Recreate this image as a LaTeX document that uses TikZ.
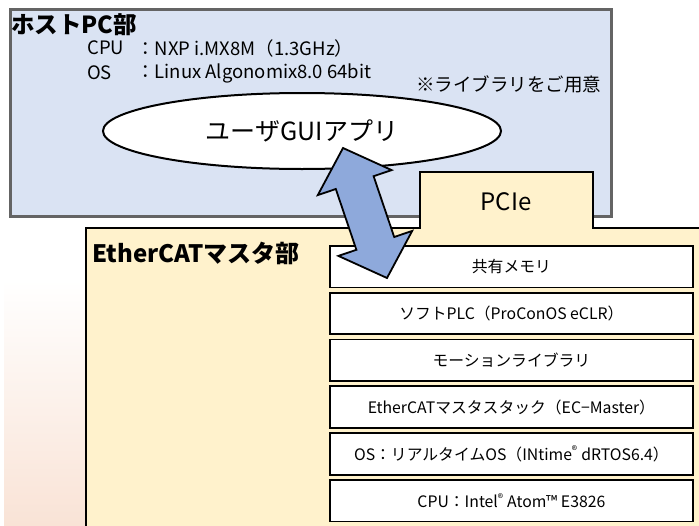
\documentclass[tikz,border=0pt]{standalone}
\usepackage{fontspec}
\setmainfont{Noto Sans CJK JP}
\usetikzlibrary{shapes.geometric}
\definecolor{hostfill}{HTML}{DAE3F3}
\definecolor{hostline}{HTML}{646464}
\definecolor{ecfill}{HTML}{FFF2CC}
\definecolor{arrowfill}{HTML}{8EA9DB}
\definecolor{pinkbot}{HTML}{F9E3D6}
\newcommand{\fs}[1]{\fontsize{#1}{#1}\selectfont}
\begin{document}
\begin{tikzpicture}[x=1pt,y=-1pt,
  txt/.style={inner sep=0pt, anchor=west},
  layerbox/.style={draw=black, line width=1.8pt, fill=white, minimum width=363pt,
    minimum height=41.5pt, anchor=north west, inner sep=0pt, font=\fs{15.8}},
  hostbox/.style={draw=hostline, line width=2.5pt, fill=hostfill, anchor=north west,
    minimum width=601pt, minimum height=207pt, inner sep=0pt},
  ecpart/.style={draw=black, line width=2pt, fill=ecfill},
  bigarrow/.style={draw=black, line width=1.8pt, fill=arrowfill, line join=miter}
]
\useasboundingbox (0,0) rectangle (699,525);
% host box
\node[hostbox] (host) at (9,8) {};
\node[txt, font=\fs{23.5}\bfseries] (hosttitle) at (11,25) {ホストPC部};
\node[txt, font=\fs{18.5}] (cpul) at (87,48) {CPU};
\node[txt, font=\fs{18.5}] (cpuv) at (136,48) {：NXP i.MX8M（1.3GHz）};
\node[txt, font=\fs{18.5}] (osl) at (87,73) {OS};
\node[txt, font=\fs{18.5}] (osv) at (136,73) {：Linux Algonomix8.0 64bit};
\node[txt, font=\fs{18.5}] (note) at (416,84) {※ライブラリをご用意};
\node[ellipse, draw=black, line width=2pt, fill=white, minimum width=398pt,
  minimum height=76pt, inner sep=0pt, font=\fs{25}] (gui) at (302,131) {ユーザGUIアプリ};
% left gradient
\shade[top color=white, bottom color=pinkbot] (4,280) rectangle (86,525);
% EtherCAT master part
\path[ecpart] (86,535) -- (86,228) -- (420,228) -- (420,172) -- (593,172)
  -- (593,228) -- (712,228) -- (712,535) -- cycle;
\node[font=\fs{24}] (pcie) at (506,202) {PCIe};
\node[txt, font=\fs{24}\bfseries] (ectitle) at (92,253) {EtherCATマスタ部};
\node[layerbox] (shm) at (329,245) {共有メモリ};
\node[layerbox] (plc) at (329,291.8) {ソフトPLC（ProConOS eCLR）};
\node[layerbox] (mot) at (329,338.6) {モーションライブラリ};
\node[layerbox] (stk) at (329,385.4) {EtherCATマスタスタック（EC−Master）};
\node[layerbox] (rtos) at (329,432.2) {OS：リアルタイムOS（INtime\textsuperscript{®} dRTOS6.4）};
\node[layerbox] (cpu) at (329,479) {CPU：Intel\textsuperscript{®} Atom™ E3826};
% double arrow
\coordinate (tipA) at (343,148);
\coordinate (tipB) at (387,278);
\draw[bigarrow] (tipA) -- (391.6,170.1) -- (373.6,176.2) -- (394.2,237.0)
  -- (412.2,230.9) -- (tipB) -- (338.4,255.9) -- (356.4,249.8)
  -- (335.8,189.0) -- (317.8,195.1) -- cycle;
\end{tikzpicture}
\end{document}
